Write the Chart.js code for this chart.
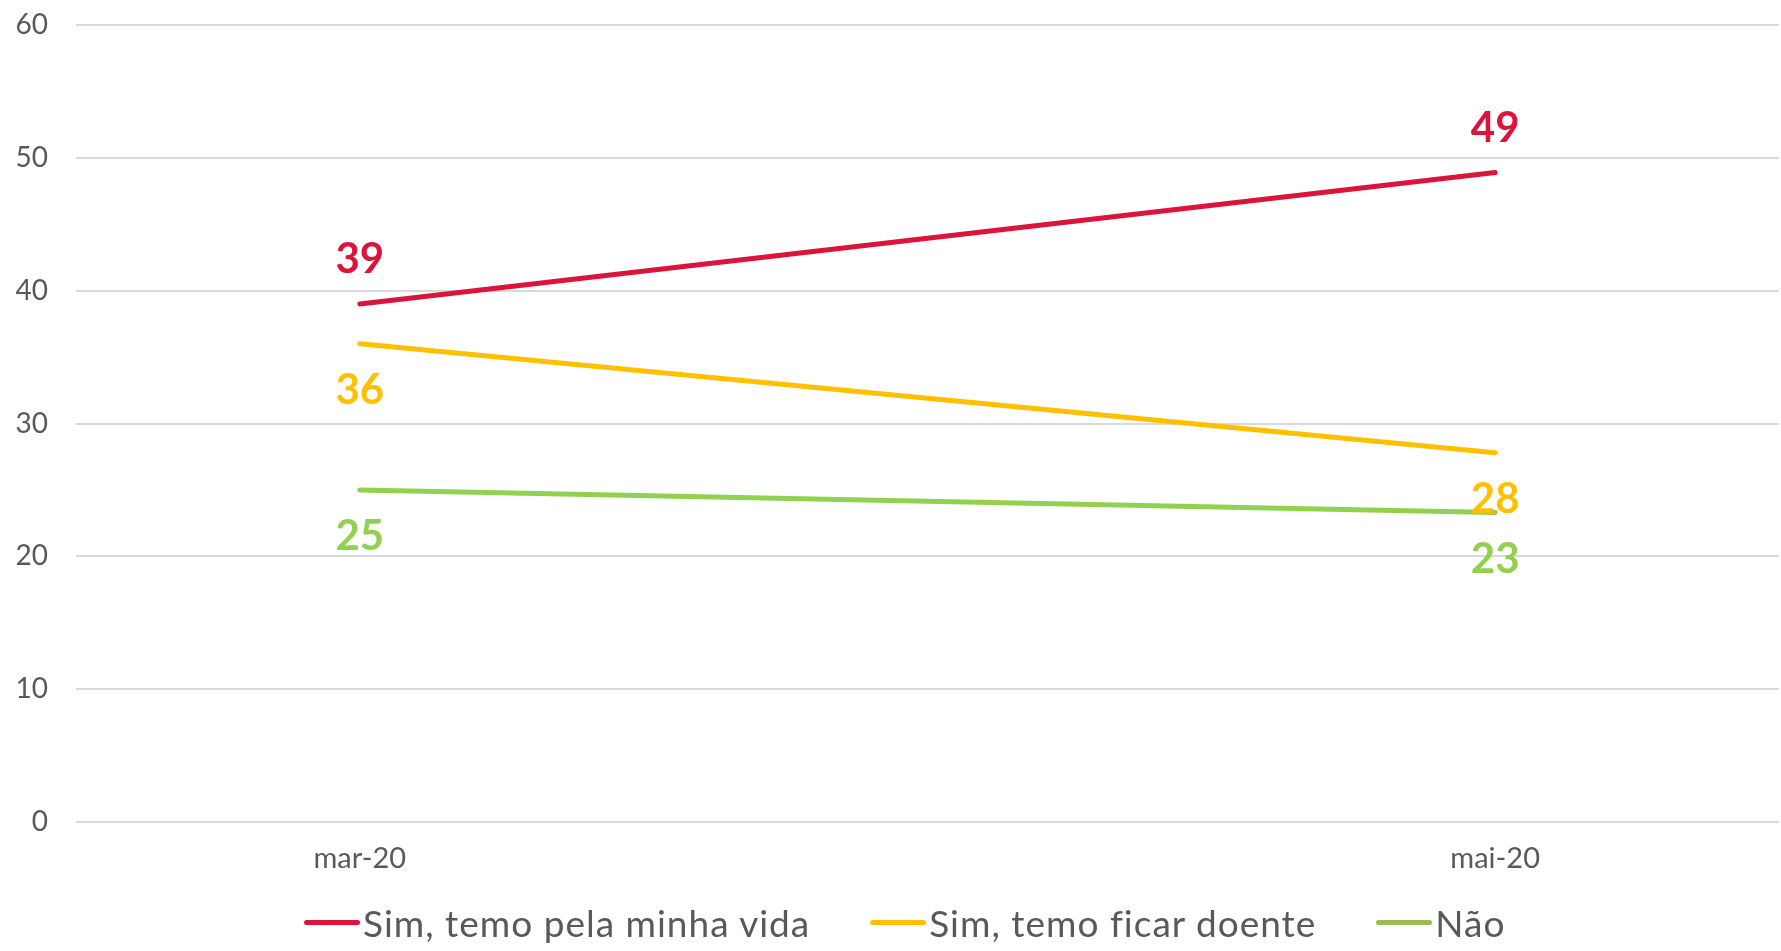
<!DOCTYPE html>
<html>
<head>
<meta charset="utf-8">
<script src="https://cdn.jsdelivr.net/npm/chart.js@4.4.1/dist/chart.umd.min.js"></script>
<style>
  html, body { margin: 0; padding: 0; background: #ffffff; }
  #wrap { position: relative; width: 1781px; height: 951px; overflow: hidden; }
  #legend { position: absolute; left: 304px; top: 899px; height: 46px; display: flex; align-items: center; gap: 60px;
            font-family: Lato, "Open Sans", sans-serif; font-size: 37px; letter-spacing: 1px; color: #595959; white-space: nowrap; }
  .item { display: flex; align-items: center; }
  .swatch { display: inline-block; width: 56px; height: 5px; border-radius: 3px; margin-right: 3px; }
</style>
</head>
<body>
<div id="wrap">
  <canvas id="c" width="1781" height="951"></canvas>
  <div id="legend"></div>
</div>
<script>
// ---- Data ----
const categories = ['mar-20', '', 'mai-20'];   // monthly date axis; the middle month has no label and no data
const seriesNames = ['Sim, temo pela minha vida', 'Sim, temo ficar doente', 'Não'];
const vidaValues   = [39, null, 48.9];
const doenteValues = [36, null, 27.8];
const naoValues    = [25, null, 23.3];
const yTickValues  = [0, 10, 20, 30, 40, 50, 60];

// ---- Styles ----
const lineColors   = ['#DC143C', '#FFC000', '#92D050'];
const legendColors = ['#DC143C', '#FFC000', '#9BBB59'];
const labelOffsets = [-44, 47, 47];
const TEXT = '#595959';
const FONT = 'Lato, "Open Sans", sans-serif';

const seriesValues = [vidaValues, doenteValues, naoValues];

const dataLabelPlugin = {
  id: 'dataLabels',
  afterDatasetsDraw(chart) {
    const ctx = chart.ctx;
    ctx.save();
    ctx.font = 'bold 42px ' + FONT;
    ctx.textAlign = 'center';
    ctx.textBaseline = 'middle';
    chart.data.datasets.forEach((ds, i) => {
      const meta = chart.getDatasetMeta(i);
      meta.data.forEach((pt, j) => {
        const v = ds.data[j];
        if (v === null || v === undefined) return;
        ctx.fillStyle = ds.borderColor;
        ctx.fillText(String(Math.round(v)), pt.x, pt.y + ds.labelOffset);
      });
    });
    ctx.restore();
  }
};

new Chart(document.getElementById('c'), {
  type: 'line',
  data: {
    labels: categories,
    datasets: seriesValues.map((vals, i) => ({
      label: seriesNames[i],
      data: vals,
      borderColor: lineColors[i],
      backgroundColor: lineColors[i],
      borderWidth: 5,
      borderCapStyle: 'round',
      pointRadius: 0,
      pointHoverRadius: 0,
      spanGaps: true,
      tension: 0,
      labelOffset: labelOffsets[i]
    }))
  },
  options: {
    responsive: false,
    animation: false,
    layout: { padding: { top: 25, right: 2, left: 0, bottom: 0 } },
    plugins: { legend: { display: false }, tooltip: { enabled: false } },
    scales: {
      x: {
        offset: true,
        grid: { display: false },
        border: { display: false },
        ticks: { color: TEXT, font: { family: FONT, size: 29 }, padding: 11, maxRotation: 0, autoSkip: false },
        afterFit(s) { s.height = 129; s.paddingLeft = 0; s.paddingRight = 0; }
      },
      y: {
        min: yTickValues[0],
        max: yTickValues[yTickValues.length - 1],
        afterBuildTicks(s) { s.ticks = yTickValues.map(v => ({ value: v })); },
        grid: { color: '#D9D9D9', lineWidth: 2, drawTicks: false },
        border: { display: false },
        ticks: { color: TEXT, font: { family: FONT, size: 28 }, padding: 28 },
        afterFit(s) { s.width = 76; s.paddingTop = 0; s.paddingBottom = 0; }
      }
    }
  },
  plugins: [dataLabelPlugin]
});

// HTML legend built from the series
const legend = document.getElementById('legend');
seriesNames.forEach((name, i) => {
  const item = document.createElement('div');
  item.className = 'item';
  const sw = document.createElement('span');
  sw.className = 'swatch';
  sw.style.background = legendColors[i];
  const tx = document.createElement('span');
  tx.textContent = name;
  item.appendChild(sw);
  item.appendChild(tx);
  legend.appendChild(item);
});
</script>
</body>
</html>
